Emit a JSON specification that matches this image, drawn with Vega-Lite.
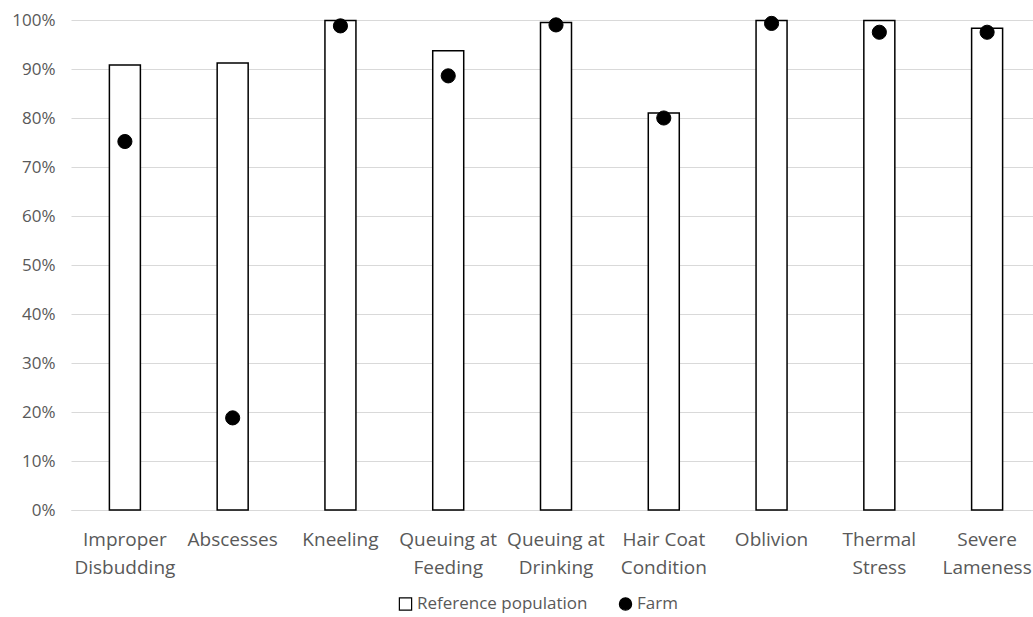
{
  "$schema": "https://vega.github.io/schema/vega-lite/v6.json",
  "width": 962,
  "height": 490,
  "autosize": {"type": "none"},
  "padding": {"left": 71, "top": 20, "right": 0, "bottom": 107},
  "background": "white",
  "data": {
    "values": [
      {"category": "Improper Disbudding", "series": "Reference population", "value": 0.908},
      {"category": "Abscesses", "series": "Reference population", "value": 0.912},
      {"category": "Kneeling", "series": "Reference population", "value": 0.999},
      {"category": "Queuing at Feeding", "series": "Reference population", "value": 0.937},
      {"category": "Queuing at Drinking", "series": "Reference population", "value": 0.995},
      {"category": "Hair Coat Condition", "series": "Reference population", "value": 0.81},
      {"category": "Oblivion", "series": "Reference population", "value": 0.999},
      {"category": "Thermal Stress", "series": "Reference population", "value": 0.999},
      {"category": "Severe Lameness", "series": "Reference population", "value": 0.983},
      {"category": "Improper Disbudding", "series": "Farm", "value": 0.752},
      {"category": "Abscesses", "series": "Farm", "value": 0.188},
      {"category": "Kneeling", "series": "Farm", "value": 0.988},
      {"category": "Queuing at Feeding", "series": "Farm", "value": 0.886},
      {"category": "Queuing at Drinking", "series": "Farm", "value": 0.99},
      {"category": "Hair Coat Condition", "series": "Farm", "value": 0.8},
      {"category": "Oblivion", "series": "Farm", "value": 0.993},
      {"category": "Thermal Stress", "series": "Farm", "value": 0.975},
      {"category": "Severe Lameness", "series": "Farm", "value": 0.975}
    ]
  },
  "encoding": {
    "x": {
      "field": "category",
      "type": "nominal",
      "sort": null,
      "title": null,
      "scale": {"range": [0, 970], "paddingInner": 0, "paddingOuter": 0},
      "axis": {
        "labelAngle": 0,
        "labelExpr": "indexof(datum.label, ' ') < 0 ? datum.label : [substring(datum.label, 0, lastindexof(datum.label, ' ')), substring(datum.label, lastindexof(datum.label, ' ') + 1)]",
        "labelBaseline": "top",
        "labelPadding": 20,
        "labelLineHeight": 28,
        "labelFontSize": 19,
        "labelFont": "Open Sans",
        "labelColor": "#595959",
        "labelLimit": 200,
        "labelOverlap": false,
        "ticks": false,
        "domainColor": "#d9d9d9",
        "grid": false
      }
    },
    "y": {
      "field": "value",
      "type": "quantitative",
      "title": null,
      "scale": {"domain": [0, 1], "nice": false},
      "axis": {
        "format": ".0%",
        "values": [0, 0.1, 0.2, 0.3, 0.4, 0.5, 0.6, 0.7, 0.8, 0.9, 1],
        "labelFontSize": 17,
        "labelFont": "Open Sans",
        "labelColor": "#595959",
        "labelPadding": 16,
        "ticks": false,
        "domain": false,
        "gridColor": "#d9d9d9",
        "gridWidth": 1.2
      }
    }
  },
  "layer": [
    {
      "transform": [{"filter": "datum.series == 'Reference population'"}],
      "mark": {"type": "bar", "size": 31, "fill": "white", "stroke": "black", "strokeWidth": 1.5}
    },
    {
      "transform": [{"filter": "datum.series == 'Farm'"}],
      "mark": {"type": "point", "filled": true, "size": 200, "opacity": 1, "strokeWidth": 1},
      "encoding": {
        "shape": {
          "field": "series",
          "type": "nominal",
          "scale": {"domain": ["Reference population", "Farm"], "range": ["square", "circle"]},
          "legend": {
            "title": null,
            "orient": "none",
            "legendX": 326,
            "legendY": 575,
            "direction": "horizontal",
            "labelFont": "Open Sans",
            "labelFontSize": 17,
            "labelColor": "#595959",
            "labelLimit": 400,
            "symbolSize": 150,
            "symbolStrokeWidth": 1.2,
            "columnPadding": 28,
            "labelOffset": 3
          }
        },
        "fill": {
          "field": "series",
          "type": "nominal",
          "scale": {"domain": ["Reference population", "Farm"], "range": ["white", "black"]}
        },
        "stroke": {
          "field": "series",
          "type": "nominal",
          "scale": {"domain": ["Reference population", "Farm"], "range": ["black", "black"]}
        }
      }
    }
  ],
  "config": {"view": {"stroke": null}}
}
